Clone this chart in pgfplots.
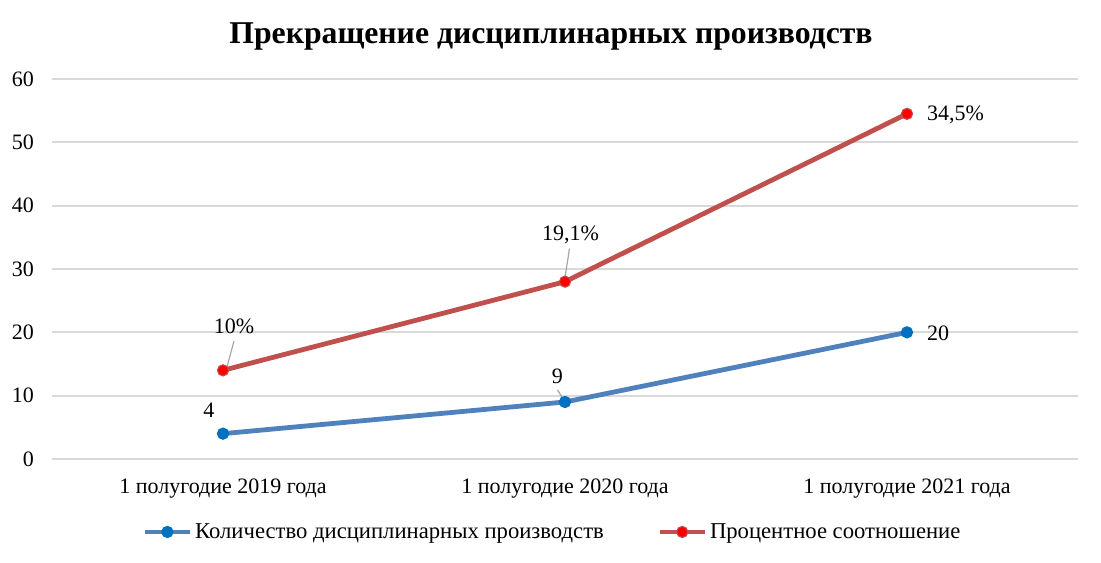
\documentclass[border=0pt]{standalone}
\usepackage{fontspec}
\setmainfont{Liberation Serif}
\usepackage{pgfplots}
\pgfplotsset{compat=1.18}
\definecolor{gridc}{HTML}{D9D9D9}
\definecolor{blueL}{HTML}{4F81BD}
\definecolor{blueM}{HTML}{0070C0}
\definecolor{redL}{HTML}{C0504D}
\definecolor{redM}{HTML}{FF0000}
\definecolor{leader}{HTML}{A6A6A6}
\newcommand{\lf}{\fontsize{16.5}{19}\selectfont}
\begin{document}
\begin{tikzpicture}[x=0.75pt,y=0.75pt]
\path[use as bounding box] (-52,-104) rectangle (1049,459);
\begin{axis}[at={(0,0)}, anchor=south west, scale only axis,
  width=769.5pt, height=285pt,
  xmin=-0.5, xmax=2.5, ymin=0, ymax=60,
  ytick={0,10,...,60}, xtick={0,1,2},
  xticklabels={1 полугодие 2019 года, 1 полугодие 2020 года, 1 полугодие 2021 года},
  axis line style={draw=none}, major tick length=0pt,
  ymajorgrids, grid style={gridc, line width=1.5pt},
  /pgf/number format/assume math mode=true,
  tick label style={font=\lf, black},
  yticklabel style={xshift=-10pt},
  xticklabel style={yshift=-11pt},
  legend columns=2,
  legend style={at={(0.488,-0.192)}, anchor=center, draw=none, fill=none,
    font=\fontsize{17}{19}\selectfont, /tikz/every even column/.style={column sep=38pt},
    inner sep=0pt},
  legend image code/.code={\draw[mark repeat=2,mark phase=2,#1] plot coordinates {(0pt,0pt) (17pt,0pt) (34pt,0pt)};},
  clip=false,
]
\addplot[blueL, line width=3.6pt, mark=*, mark size=4.2pt, mark options={fill=blueM, draw=blueM, line width=0.8pt}]
  coordinates {(0,4) (1,9) (2,20)};
\addlegendentry{Количество дисциплинарных производств}
\addplot[redL, line width=3.6pt, mark=*, mark size=4.2pt, mark options={fill=redM, draw=redL, line width=0.8pt}]
  coordinates {(0,14) (1,28) (2,54.5)};
\addlegendentry{Процентное соотношение}
% leader lines
\draw[leader, line width=0.9pt] (axis cs:0.012,14.6) -- (axis cs:0.032,18.6);
\draw[leader, line width=0.9pt] (axis cs:0.978,10.9) -- (axis cs:0.996,9.4);
\draw[leader, line width=0.9pt] (axis cs:1.0,28.6) -- (axis cs:1.013,33.2);
% data labels
\node[font=\lf] at (axis cs:0.032,21.0) {10\%};
\node[font=\lf] at (axis cs:-0.041,7.7) {4};
\node[font=\lf] at (axis cs:0.978,13.1) {9};
\node[font=\lf] at (axis cs:1.016,35.4) {19,1\%};
\node[font=\lf, anchor=west, inner sep=0pt] at (axis cs:2.058,54.3) {34,5\%};
\node[font=\lf, anchor=west, inner sep=0pt] at (axis cs:2.058,19.9) {20};
\end{axis}
\node[font=\fontsize{23.8}{28}\selectfont\bfseries] at (499,423) {Прекращение дисциплинарных производств};
\end{tikzpicture}
\end{document}
